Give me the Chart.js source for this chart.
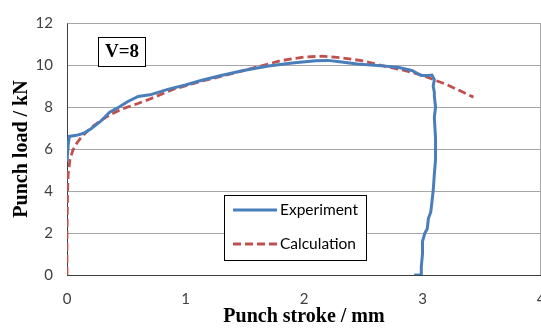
<!DOCTYPE html>
<html>
<head>
<meta charset="utf-8">
<script src="https://cdn.jsdelivr.net/npm/chart.js@4"></script>
<style>
  html, body { margin: 0; padding: 0; background: #ffffff; }
  #wrap { width: 541px; height: 329px; }
</style>
</head>
<body>
<div id="wrap"><canvas id="chart" width="541" height="329"></canvas></div>
<script>
// Punch load vs punch stroke, V=8
const xTicks = [0, 1, 2, 3, 4];
const yTicks = [0, 2, 4, 6, 8, 10, 12];

// Experiment curve (stroke mm, load kN)
const expStroke = [0, 0.01, 0.02, 0.08, 0.14, 0.2, 0.28, 0.36, 0.44, 0.51, 0.6, 0.7, 0.85, 1.0, 1.13, 1.3, 1.5, 1.7, 1.9, 2.1, 2.2, 2.3, 2.45, 2.65, 2.8, 2.91, 2.99, 3.05, 3.08, 3.1, 3.09, 3.1, 3.1, 3.11, 3.1, 3.11, 3.11, 3.1, 3.09, 3.08, 3.07, 3.05, 3.04, 3.02, 3.0, 3.0, 2.99, 2.99, 2.93];
const expLoad   = [5.4, 6.2, 6.6, 6.65, 6.75, 6.95, 7.3, 7.75, 8.0, 8.25, 8.5, 8.58, 8.84, 9.05, 9.26, 9.5, 9.75, 9.95, 10.1, 10.2, 10.22, 10.15, 10.05, 9.97, 9.88, 9.74, 9.5, 9.5, 9.52, 9.3, 9.0, 8.7, 8.5, 8.0, 7.5, 6.5, 5.5, 4.8, 4.0, 3.5, 3.0, 2.7, 2.2, 2.0, 1.6, 1.0, 0.4, 0, 0];

// Calculation curve
const calcStroke = [0, 0, 0.005, 0.01, 0.025, 0.05, 0.085, 0.13, 0.19, 0.27, 0.36, 0.46, 0.56, 0.7, 0.9, 1.13, 1.4, 1.6, 1.8, 2.0, 2.15, 2.3, 2.5, 2.65, 2.8, 2.91, 3.0, 3.2, 3.43];
const calcLoad   = [0, 2, 4, 4.8, 5.5, 5.95, 6.3, 6.62, 6.95, 7.3, 7.62, 7.9, 8.09, 8.38, 8.85, 9.22, 9.6, 9.9, 10.2, 10.38, 10.42, 10.35, 10.2, 9.98, 9.8, 9.65, 9.5, 9.08, 8.47];

const seriesNames = ['Experiment', 'Calculation'];
const caseLabel = 'V=8';

function toPoints(xs, ys) {
    return xs.map((x, i) => ({ x: x, y: ys[i] }));
}

// Frame, legend box and case label
const decorations = {
    id: 'decorations',
    beforeDatasetsDraw(chart) {
        const ctx = chart.ctx;
        const a = chart.chartArea;
        ctx.save();
        ctx.strokeStyle = '#a6a6a6';
        ctx.lineWidth = 1;
        ctx.beginPath();
        ctx.moveTo(Math.round(a.left) + 0.5, Math.round(a.top) + 0.5);
        ctx.lineTo(Math.round(a.right) - 0.5, Math.round(a.top) + 0.5);
        ctx.lineTo(Math.round(a.right) - 0.5, Math.round(a.bottom));
        ctx.stroke();
        ctx.restore();
    },
    afterDatasetsDraw(chart) {
        const ctx = chart.ctx;
        const a = chart.chartArea;
        ctx.save();

        // case label box
        const bx = a.left + 31, by = a.top + 14;
        ctx.fillStyle = '#ffffff';
        ctx.fillRect(bx, by, 47, 29);
        ctx.strokeStyle = '#000000';
        ctx.lineWidth = 1;
        ctx.strokeRect(bx + 0.5, by + 0.5, 47, 29);
        ctx.fillStyle = '#000000';
        ctx.font = 'bold 19px "Liberation Serif"';
        ctx.textAlign = 'center';
        ctx.textBaseline = 'middle';
        ctx.fillText(caseLabel, bx + 24, by + 15.5);

        // legend
        const lx = a.left + 157, ly = a.top + 172;
        ctx.fillStyle = '#ffffff';
        ctx.fillRect(lx, ly, 142, 65);
        ctx.strokeStyle = '#000000';
        ctx.strokeRect(lx + 0.5, ly + 0.5, 142, 65);
        ctx.font = '15.5px Lato';
        ctx.textAlign = 'left';
        chart.data.datasets.forEach((ds, i) => {
            const yy = ly + 15 + i * 34;
            ctx.strokeStyle = ds.borderColor;
            ctx.lineWidth = ds.borderWidth;
            ctx.setLineDash(ds.borderDash || []);
            ctx.beginPath();
            ctx.moveTo(lx + 9, yy);
            ctx.lineTo(lx + 53, yy);
            ctx.stroke();
            ctx.setLineDash([]);
            ctx.fillStyle = '#000000';
            ctx.fillText(ds.label, lx + 56, yy);
        });
        ctx.restore();
    }
};

const ctx = document.getElementById('chart').getContext('2d');
new Chart(ctx, {
    type: 'scatter',
    data: {
        datasets: [
            {
                label: seriesNames[0],
                data: toPoints(expStroke, expLoad),
                showLine: true,
                borderColor: '#4a7ebb',
                backgroundColor: '#4a7ebb',
                borderWidth: 3,
                pointRadius: 0,
                tension: 0
            },
            {
                label: seriesNames[1],
                data: toPoints(calcStroke, calcLoad),
                showLine: true,
                borderColor: '#c0504d',
                backgroundColor: '#c0504d',
                borderWidth: 2.8,
                borderDash: [8, 4],
                pointRadius: 0,
                tension: 0
            }
        ]
    },
    options: {
        responsive: false,
        animation: false,
        layout: { padding: { left: 10, right: 0, top: 20, bottom: 0 } },
        plugins: {
            legend: { display: false },
            tooltip: { enabled: false }
        },
        scales: {
            x: {
                type: 'linear',
                min: xTicks[0],
                max: xTicks[xTicks.length - 1],
                afterBuildTicks: function(scale) {
                    scale.ticks = xTicks.map(v => ({ value: v }));
                },
                afterFit: function(scale) {
                    scale.height = 54;
                    scale.paddingRight = 0;
                    scale.paddingLeft = 0;
                },
                grid: { display: false, drawTicks: false },
                border: { display: true, color: '#404040', width: 1 },
                ticks: {
                    padding: 15,
                    color: '#404040',
                    font: { family: 'Lato', size: 15 }
                },
                title: {
                    display: true,
                    text: 'Punch stroke / mm',
                    color: '#000000',
                    padding: { top: 0, bottom: 0 },
                    font: { family: 'Liberation Serif', size: 20, weight: 'bold' }
                }
            },
            y: {
                type: 'linear',
                min: yTicks[0],
                max: yTicks[yTicks.length - 1],
                afterBuildTicks: function(scale) {
                    scale.ticks = yTicks.map(v => ({ value: v }));
                },
                afterFit: function(scale) {
                    scale.width = 57;
                },
                grid: { color: '#a6a6a6', lineWidth: 1, drawTicks: false },
                border: { display: true, color: '#404040', width: 1 },
                ticks: {
                    padding: 14,
                    color: '#404040',
                    font: { family: 'Lato', size: 15 }
                },
                title: {
                    display: true,
                    text: 'Punch load / kN',
                    color: '#000000',
                    padding: { top: 0, bottom: 0 },
                    font: { family: 'Liberation Serif', size: 20, weight: 'bold' }
                }
            }
        }
    },
    plugins: [decorations]
});
</script>
</body>
</html>
